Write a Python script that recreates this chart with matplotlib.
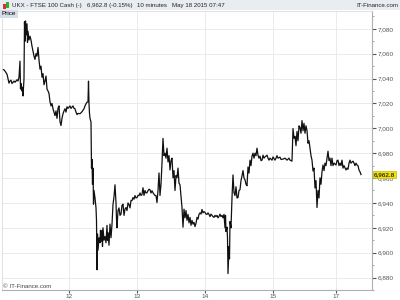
import numpy as np
import matplotlib.pyplot as plt
from matplotlib.patches import Rectangle

plt.rcParams['font.family'] = ['Liberation Sans', 'DejaVu Sans']

# 10 minute bars, UKX FTSE 100 cash, 11-18 May 2015
bars = [2, 4, 5, 7, 8, 9, 10, 11, 12, 14, 15, 17, 18, 19, 20, 20.5, 21, 22, 22.5, 23, 24, 24.5, 25, 25.5, 26, 27, 27.5, 28, 29, 30,
        31, 32, 33, 34, 35, 36, 37, 38, 39, 40, 41, 42, 43, 44, 45, 46, 47, 48, 49, 50, 51, 52, 53, 54, 55, 56, 57, 58, 59, 60,
        61, 62, 63, 64, 65, 66, 67, 68, 70, 71, 73, 74, 75, 76, 77, 78, 80, 82, 84, 85, 86, 87, 88, 88.5, 89, 89.5, 90, 91, 91.5, 92,
        92.5, 93, 93.5, 94, 95, 96, 96.5, 97, 97.5, 98, 99, 100, 100.5, 101, 102, 102.5, 103, 104, 105, 106, 107, 107.5, 108, 109, 110, 111,
        112, 113, 114, 115, 116, 116.5, 117, 118, 119, 120, 121, 122, 123, 124, 125, 126, 127, 128, 129, 130, 131, 132, 133, 134, 135, 136,
        137, 138, 139, 140, 141, 142, 143, 144, 145, 146, 147, 148, 149, 150, 151, 152, 153, 154, 155, 156, 157, 158, 159, 160, 161, 162,
        163, 164, 165, 166, 167, 168, 169, 170, 171, 172, 173, 174, 175, 176, 177, 178, 179, 180, 181, 182, 183, 184, 185, 186, 187, 188,
        189, 190, 191, 192, 193, 194, 195, 196, 197, 198, 199, 200, 201, 202, 203, 204, 205, 206, 207, 208, 209, 210, 211, 212, 213, 214,
        215, 216, 217, 218, 219, 220, 221, 222, 223, 224, 225, 225.5, 226, 227, 227.5, 228, 229, 229.5, 230, 231, 232, 233, 234, 235, 236, 237,
        238, 239, 240, 241, 242, 243, 244, 245, 246, 247, 248, 249, 250, 251, 252, 253, 254, 255, 256, 257, 258, 259, 260, 261, 262, 263,
        264, 265, 267, 268, 269, 270, 272, 273, 275, 276, 277, 278, 280, 281, 283, 285, 287, 289, 290, 292, 293, 294, 295, 296, 297, 298,
        299, 300, 301, 302, 303, 304, 305, 306, 307, 308, 309, 310, 311, 312, 313, 314, 315, 316, 317, 318, 319, 320, 321, 322, 323, 324,
        325, 326, 327, 328, 329, 330, 331, 332, 333, 334, 336, 337, 338, 339, 340, 341, 342, 343, 344, 346, 347, 348, 349, 350, 351, 353,
        354, 355, 356, 357, 358, 359, 360, 361]
prices = [7047.5, 7047, 7046, 7043.5, 7040, 7036.3, 7038, 7038.7, 7036, 7038, 7037, 7039, 7038, 7041, 7054, 7031.6, 7036, 7030, 7033, 7026,
          7040, 7085.6, 7070, 7086.3, 7075, 7084, 7069, 7078, 7071, 7074, 7071, 7066, 7062, 7058, 7055.4, 7060, 7058, 7065, 7055, 7047.5,
          7050, 7041, 7044, 7035, 7038, 7042, 7031.6, 7030, 7028, 7021.3, 7018, 7020, 7015.7, 7013, 7010.2, 7014, 7008, 7016, 7018, 7005.4,
          7002.2, 7008, 7011.7, 7014, 7015.7, 7013, 7017.3, 7016, 7018, 7016, 7018, 7016, 7015.7, 7013, 7011, 7012, 7011.7, 7013.3, 7015.7, 7018,
          7019.7, 7021, 7021.3, 7037.9, 7020, 7012, 7008, 7005, 6968, 6975, 6955, 6968, 6939, 6950, 6944, 6936, 6926, 6886.3, 6915, 6902,
          6912, 6908, 6918, 6909, 6918, 6905, 6920, 6910, 6913, 6908, 6922, 6910, 6916, 6906, 6923, 6912, 6922.8, 6938.7, 6945, 6954.6,
          6940, 6927, 6920, 6933.9, 6936, 6930, 6931, 6938, 6939, 6930, 6935, 6936.3, 6933.9, 6940, 6938.7, 6936, 6942, 6941.9, 6944.3, 6943,
          6945.9, 6944, 6944.3, 6946, 6945.9, 6948, 6946, 6946.7, 6952.2, 6946, 6950, 6948, 6948.2, 6949.8, 6951, 6950.6, 6948, 6949.8, 6948.2, 6947,
          6946, 6945.9, 6940.3, 6950, 6964.1, 6946, 6955, 6972.1, 6991.9, 6978, 6980, 6976, 6984, 6973, 6978, 6966.5, 6974, 6976, 6960.2, 6966,
          6950, 6962, 6960.2, 6968, 6956, 6954.6, 6945, 6936.3, 6920.5, 6935, 6928, 6933.9, 6926, 6930.8, 6924, 6928.4, 6922, 6926, 6923, 6924.4,
          6921, 6923.6, 6928.4, 6927, 6930.8, 6932, 6931, 6934.7, 6932, 6933, 6932.4, 6931, 6930.8, 6932, 6930.8, 6929, 6931, 6930, 6929, 6928.4,
          6930, 6929, 6930, 6928, 6929.2, 6931, 6929, 6930, 6928, 6930.8, 6920, 6930, 6917, 6920.5, 6912, 6883.2, 6905, 6895, 6925, 6920,
          6944.3, 6962.5, 6948.2, 6945.9, 6953, 6944, 6944.3, 6950, 6950.6, 6958, 6961.7, 6966, 6960, 6958.6, 6955, 6953.8, 6968.9, 6964, 6974.4, 6970,
          6977.6, 6980, 6976, 6980, 6978, 6984, 6978.4, 6976, 6977.6, 6974, 6974.4, 6978.4, 6976, 6977, 6978.4, 6976, 6974.4, 6976, 6974.4, 6977,
          6974.4, 6976, 6978, 6976, 6976.8, 6975, 6975.2, 6976, 6974.4, 6976, 6974.4, 6973.6, 6999.8, 6992, 6993.5, 6986, 6997.5, 6990, 7002, 7000.6,
          6996, 7006.2, 6998, 7004, 6996, 7002, 6998.2, 6988, 6990, 6984, 6978, 6974.4, 6965.7, 6968, 6952, 6958, 6936.3, 6950, 6944, 6960.2,
          6955, 6965, 6970.5, 6966, 6972, 6970, 6976, 6981.6, 6974, 6976, 6970, 6976, 6970, 6972, 6970.5, 6974, 6974.4, 6970, 6972, 6970,
          6974.4, 6968, 6970, 6966.5, 6968, 6967, 6972, 6974.4, 6972, 6973.6, 6972, 6970, 6972, 6970.5, 6970, 6966.5, 6965, 6962.8]

day_bars = [69, 137, 205, 273, 336]
day_labels = ["12", "13", "14", "15", "17"]
price_ticks = [6880, 6900, 6920, 6940, 6960, 6980, 7000, 7020, 7040, 7060, 7080]
last_price = 6962.8
header = ["UKX - FTSE 100 Cash (-)", "6,962.8 (-0.15%)", "10 minutes", "May 18 2015 07:47"]
header_x = [12, 83, 125, 160]

fig = plt.figure(figsize=(4, 3), dpi=100)
fig.patch.set_facecolor("white")

# header bar
fig.patches.append(Rectangle((0, 1 - 10/300), 1, 10/300, transform=fig.transFigure,
                             facecolor="#e9edf1", edgecolor="none", zorder=0))
fig.patches.append(Rectangle((3/400, 1 - 9/300), 3/400, 5/300, transform=fig.transFigure,
                             facecolor="#e03030", edgecolor="none"))
fig.patches.append(Rectangle((6/400, 1 - 8/300), 3/400, 6/300, transform=fig.transFigure,
                             facecolor="#30b030", edgecolor="none"))
hy = 1 - 5.5/300
hs = 4.4
renderer = fig.canvas.get_renderer()
prev_end = 0
for s, px in zip(header, header_x):
    px = max(px, prev_end + 5)
    t = fig.text(px/400, hy, s, fontsize=hs, va="center", color="#222222")
    prev_end = t.get_window_extent(renderer).x1
fig.text(398/400, hy, "IT-Finance.com", fontsize=hs, va="center", ha="right", color="#222222")

ax = fig.add_axes([2/400, 10/300, 370/400, 279/300])
ax.plot(bars, prices, color="#111111", lw=0.9)

ax.set_xlim(2, 372)
ax.set_ylim(6872.8, 7094.3)

ax.set_xticks(day_bars)
ax.set_xticklabels(day_labels)
ax.set_yticks(price_ticks)
ax.set_yticklabels([f"{v:,}" for v in price_ticks])
ax.set_yticks(np.arange(6870, 7095, 10), minor=True)
ax.yaxis.tick_right()
ax.tick_params(axis="y", which="major", labelsize=4.6, colors="#555555", length=3, pad=1)
ax.tick_params(axis="y", which="minor", colors="#999999", length=1.5)
ax.tick_params(axis="x", labelsize=4.6, colors="#555555", length=2, pad=1)
ax.grid(True, color="#e8e8e8", lw=0.6)
ax.set_axisbelow(True)
for side in ["left", "top"]:
    ax.spines[side].set_color("#d8dde2")
    ax.spines[side].set_linewidth(0.6)
for side in ["right", "bottom"]:
    ax.spines[side].set_color("#a8b0b8")
    ax.spines[side].set_linewidth(0.8)

ax.text(0, 1, "Price", transform=ax.transAxes, fontsize=4.6, va="top", ha="left",
        bbox=dict(boxstyle="square,pad=0.3", facecolor="#d6dfe9", edgecolor="none"))
ax.text(0.002, 0.004, "© IT-Finance.com", transform=ax.transAxes, fontsize=4.4,
        va="bottom", ha="left", color="#444444")

ax.annotate(f"{last_price:,.1f}", xy=(1, last_price), xycoords=("axes fraction", "data"),
            xytext=(1.5, 0), textcoords="offset points", fontsize=4.6, fontweight="bold",
            va="center", ha="left", color="#333333",
            bbox=dict(boxstyle="square,pad=0.15", facecolor="#f2e200", edgecolor="#c8b800", lw=0.5))

fig.savefig("out.png", dpi=100)
